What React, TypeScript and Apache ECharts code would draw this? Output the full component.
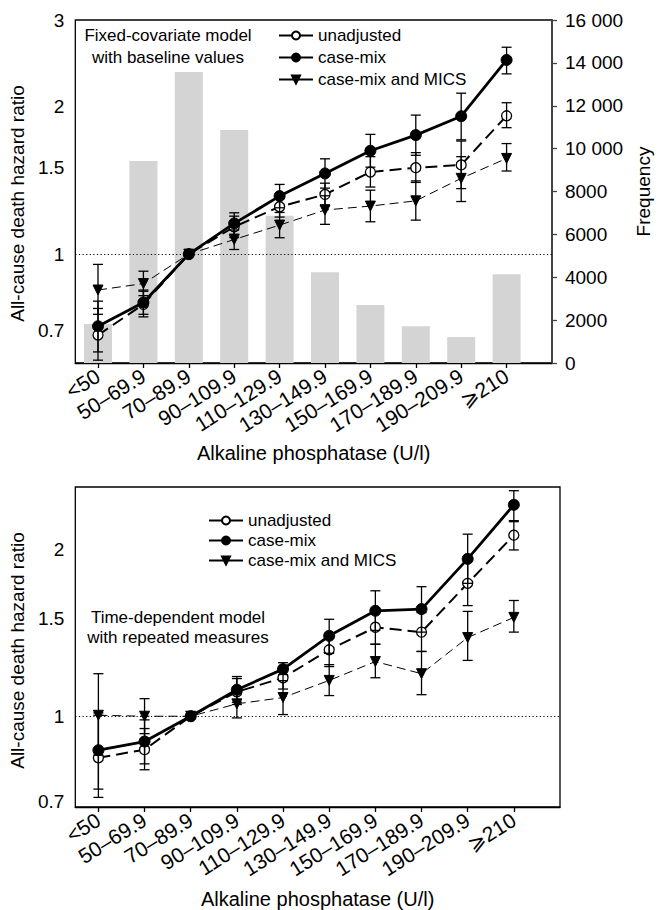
import React, { useEffect, useRef } from "react";
import * as echarts from "echarts";

const FONT = "'Liberation Sans', Arial, Helvetica, sans-serif";

const categories = ["<50", "50–69.9", "70–89.9", "90–109.9", "110–129.9", "130–149.9", "150–169.9", "170–189.9", "190–209.9", "⩾210"];
const frequency = [1820, 9420, 13570, 10870, 6870, 4230, 2700, 1720, 1210, 4140];

// Fixed-covariate model with baseline values
const fixedUnadj = [0.684, 0.79, 1, 1.137, 1.249, 1.323, 1.47, 1.5, 1.52, 1.914];
const fixedUnadjLo = [0.608, 0.745, null, 1.081, 1.19, 1.26, 1.37, 1.4, 1.36, 1.81];
const fixedUnadjHi = [0.775, 0.84, null, 1.195, 1.31, 1.395, 1.58, 1.61, 1.7, 2.035];
const fixedCaseMix = [0.713, 0.797, 1, 1.155, 1.313, 1.46, 1.624, 1.748, 1.91, 2.487];
const fixedCaseMixLo = [0.632, 0.754, null, 1.098, 1.243, 1.363, 1.504, 1.59, 1.71, 2.33];
const fixedCaseMixHi = [0.802, 0.845, null, 1.214, 1.387, 1.564, 1.754, 1.92, 2.128, 2.64];
const fixedMics = [0.845, 0.871, 1, 1.071, 1.146, 1.23, 1.253, 1.284, 1.427, 1.567];
const fixedMicsLo = [0.754, 0.823, null, 1.022, 1.08, 1.15, 1.164, 1.173, 1.28, 1.477];
const fixedMicsHi = [0.953, 0.923, null, 1.12, 1.216, 1.315, 1.35, 1.41, 1.58, 1.68];

// Time-dependent model with repeated measures
const tdUnadj = [0.841, 0.87, 1, 1.107, 1.174, 1.319, 1.449, 1.42, 1.74, 2.127];
const tdUnadjLo = [0.713, 0.8, null, 1.05, 1.12, 1.23, 1.35, 1.31, 1.586, 2.0];
const tdUnadjHi = [1.004, 0.95, null, 1.17, 1.23, 1.41, 1.55, 1.54, 1.91, 2.25];
const tdCaseMix = [0.868, 0.9, 1, 1.117, 1.217, 1.398, 1.552, 1.563, 1.927, 2.414];
const tdCaseMixLo = [0.738, 0.82, null, 1.06, 1.19, 1.3, 1.43, 1.42, 1.74, 2.26];
const tdCaseMixHi = [1.014, 0.985, null, 1.18, 1.25, 1.498, 1.687, 1.716, 2.136, 2.56];
const tdMics = [1.004, 1.0, 1, 1.053, 1.081, 1.161, 1.256, 1.194, 1.388, 1.51];
const tdMicsLo = [0.85, 0.93, null, 0.993, 1.007, 1.09, 1.174, 1.094, 1.262, 1.42];
const tdMicsHi = [1.194, 1.076, null, 1.11, 1.16, 1.24, 1.35, 1.31, 1.548, 1.62];

const topHrTicks = [0.7, 1, 1.5, 2, 3];
const bottomHrTicks = [0.7, 1, 1.5, 2];
const seriesNames = ["unadjusted", "case-mix", "case-mix and MICS"];

const ln = Math.log;

function hrLabel(ticks: number[]) {
  return (v: number) => {
    const t = ticks.find((k) => Math.abs(ln(k) - v) < 1e-6);
    return t === undefined ? "" : String(t);
  };
}

function errorItem(params: any, api: any) {
  const x = api.value(0);
  const lo = api.value(1);
  const hi = api.value(2);
  const pLo = api.coord([x, lo]);
  const pHi = api.coord([x, hi]);
  const w = 5;
  const style = { stroke: "#000", lineWidth: 1.3, fill: "none" };
  return {
    type: "group",
    children: [
      { type: "line", shape: { x1: pLo[0], y1: pLo[1], x2: pHi[0], y2: pHi[1] }, style },
      { type: "line", shape: { x1: pLo[0] - w, y1: pLo[1], x2: pLo[0] + w, y2: pLo[1] }, style },
      { type: "line", shape: { x1: pHi[0] - w, y1: pHi[1], x2: pHi[0] + w, y2: pHi[1] }, style },
    ],
  };
}

function errData(lo: (number | null)[], hi: (number | null)[]) {
  const out: number[][] = [];
  lo.forEach((l, i) => {
    const h = hi[i];
    if (l != null && h != null) out.push([i, ln(l), ln(h)]);
  });
  return out;
}

function pts(vals: number[]) {
  return vals.map((v, i) => [i, ln(v)]);
}

const styles = [
  {
    symbol: "circle",
    symbolSize: 10,
    symbolRotate: 0,
    itemStyle: { color: "#fff", borderColor: "#000", borderWidth: 1.3 },
    lineStyle: { color: "#000", width: 2, type: [12, 6] },
  },
  {
    symbol: "circle",
    symbolSize: 11,
    symbolRotate: 0,
    itemStyle: { color: "#000", borderColor: "#000", borderWidth: 1 },
    lineStyle: { color: "#000", width: 2.8, type: "solid" },
  },
  {
    symbol: "triangle",
    symbolSize: 10,
    symbolRotate: 180,
    itemStyle: { color: "#000", borderColor: "#000", borderWidth: 1 },
    lineStyle: { color: "#000", width: 1, type: [9, 5] },
  },
];

function lineSeries(name: string, idx: number, vals: number[], axis: number, yAxis: number, withRef: boolean) {
  const s: any = {
    type: "line",
    name,
    xAxisIndex: axis,
    yAxisIndex: yAxis,
    data: pts(vals),
    z: 3 + idx,
    ...styles[idx],
  };
  if (withRef) {
    s.markLine = {
      silent: true,
      symbol: ["none", "none"],
      label: { show: false },
      lineStyle: { color: "#000", width: 1, type: [1.2, 2.4] },
      data: [{ yAxis: 0 }],
      z: 2,
    };
  }
  return s;
}

function errSeries(lo: any[], hi: any[], axis: number, yAxis: number) {
  return {
    type: "custom",
    xAxisIndex: axis,
    yAxisIndex: yAxis,
    renderItem: errorItem,
    data: errData(lo, hi),
    encode: { x: 0, y: [1, 2] },
    z: 10,
    silent: true,
  };
}

const xAxisBase = (gridIndex: number, gap: number) => ({
  type: "value",
  gridIndex,
  min: -0.5,
  max: 10,
  name: "Alkaline phosphatase (U/l)",
  nameLocation: "middle",
  nameGap: gap,
  nameTextStyle: { fontFamily: FONT, fontSize: 20, color: "#000" },
  axisLine: { show: true, onZero: false, lineStyle: { color: "#000", width: 1.3 } },
  axisTick: { show: true, inside: false, length: 5, lineStyle: { color: "#000", width: 1.3 }, customValues: [0, 1, 2, 3, 4, 5, 6, 7, 8, 9] },
  axisLabel: {
    show: true,
    rotate: 32,
    margin: 11,
    fontFamily: FONT,
    fontSize: 21,
    color: "#000",
    customValues: [0, 1, 2, 3, 4, 5, 6, 7, 8, 9],
    formatter: (v: number) => categories[Math.round(v)] ?? "",
  },
  splitLine: { show: false },
});

export default function App() {
  const ref = useRef<HTMLDivElement>(null);
  useEffect(() => {
    if (!ref.current) return;
    const chart = echarts.init(ref.current, undefined, { renderer: "svg" });
    const topVals = [fixedUnadj, fixedCaseMix, fixedMics];
    const topLo = [fixedUnadjLo, fixedCaseMixLo, fixedMicsLo];
    const topHi = [fixedUnadjHi, fixedCaseMixHi, fixedMicsHi];
    const botVals = [tdUnadj, tdCaseMix, tdMics];
    const botLo = [tdUnadjLo, tdCaseMixLo, tdMicsLo];
    const botHi = [tdUnadjHi, tdCaseMixHi, tdMicsHi];

    const series: any[] = [
      {
        type: "bar",
        name: "Frequency",
        xAxisIndex: 0,
        yAxisIndex: 1,
        data: frequency.map((f, i) => [i, f]),
        barWidth: 28,
        itemStyle: { color: "#d4d4d4" },
        z: 1,
        silent: true,
      },
    ];
    seriesNames.forEach((n, i) => series.push(lineSeries(n, i, topVals[i], 0, 0, i === 1)));
    seriesNames.forEach((n, i) => series.push(lineSeries(n, i, botVals[i], 1, 2, i === 1)));
    seriesNames.forEach((n, i) => series.push(errSeries(topLo[i], topHi[i], 0, 0)));
    seriesNames.forEach((n, i) => series.push(errSeries(botLo[i], botHi[i], 1, 2)));

    const legendBase = {
      orient: "vertical",
      data: seriesNames,
      itemWidth: 34,
      itemHeight: 10,
      selectedMode: false,
      lineStyle: { type: "solid" },
      textStyle: { fontFamily: FONT, fontSize: 17, color: "#000", lineHeight: 17 },
    };

    const option: any = {
      animation: false,
      backgroundColor: "#fff",
      textStyle: { fontFamily: FONT },
      grid: [
        { left: 74, top: 20, width: 484, height: 343, show: true, borderColor: "#000", borderWidth: 1.3, backgroundColor: "transparent", containLabel: false },
        { left: 74, top: 487, width: 486, height: 322, show: true, borderColor: "#000", borderWidth: 1.3, backgroundColor: "transparent", containLabel: false },
      ],
      legend: [
        { ...legendBase, left: 273, top: 22, itemGap: 5 },
        { ...legendBase, left: 203, top: 507, itemGap: 3 },
      ],
      xAxis: [xAxisBase(0, 80), xAxisBase(1, 82)],
      yAxis: [
        {
          type: "value",
          gridIndex: 0,
          min: ln(0.6),
          max: ln(3),
          name: "All-cause death hazard ratio",
          nameLocation: "middle",
          nameRotate: 90,
          nameGap: 46,
          nameTextStyle: { fontFamily: FONT, fontSize: 19, color: "#000", padding: [0, 24, 0, 0] },
          axisLine: { show: false, onZero: false },
          axisTick: { show: false },
          splitLine: { show: false },
          axisLabel: {
            margin: 11,
            fontFamily: FONT,
            fontSize: 19,
            color: "#000",
            customValues: topHrTicks.map(ln),
            formatter: hrLabel(topHrTicks),
          },
        },
        {
          type: "value",
          gridIndex: 0,
          position: "right",
          min: 0,
          max: 16000,
          interval: 2000,
          name: "Frequency",
          nameLocation: "middle",
          nameRotate: 90,
          nameGap: 80,
          nameTextStyle: { fontFamily: FONT, fontSize: 19, color: "#000" },
          axisLine: { show: true, onZero: false, lineStyle: { color: "#444", width: 2 } },
          axisTick: { show: true, inside: false, length: 5, lineStyle: { color: "#444", width: 1.3 } },
          splitLine: { show: false },
          axisLabel: {
            margin: 13,
            fontFamily: FONT,
            fontSize: 19,
            color: "#000",
            formatter: (v: number) => (v >= 10000 ? `${Math.floor(v / 1000)} 000` : String(v)),
          },
        },
        {
          type: "value",
          gridIndex: 1,
          min: ln(0.685),
          max: ln(2.6),
          name: "All-cause death hazard ratio",
          nameLocation: "middle",
          nameRotate: 90,
          nameGap: 46,
          nameTextStyle: { fontFamily: FONT, fontSize: 19, color: "#000", padding: [0, 7, 0, 0] },
          axisLine: { show: false, onZero: false },
          axisTick: { show: false },
          splitLine: { show: false },
          axisLabel: {
            margin: 11,
            fontFamily: FONT,
            fontSize: 19,
            color: "#000",
            customValues: bottomHrTicks.map(ln),
            formatter: hrLabel(bottomHrTicks),
          },
        },
      ],
      graphic: [
        {
          type: "text",
          x: 168,
          y: 24,
          z: 20,
          style: {
            text: "Fixed-covariate model\nwith baseline values",
            textAlign: "center",
            textVerticalAlign: "top",
            fontFamily: FONT,
            fontSize: 17,
            lineHeight: 22,
            fill: "#000",
          },
        },
        {
          type: "text",
          x: 178,
          y: 607,
          z: 20,
          style: {
            text: "Time-dependent model\nwith repeated measures",
            textAlign: "center",
            textVerticalAlign: "top",
            fontFamily: FONT,
            fontSize: 17,
            lineHeight: 20,
            fill: "#000",
          },
        },
      ],
      series,
    };
    chart.setOption(option);
    return () => chart.dispose();
  }, []);
  return <div ref={ref} style={{ position: "absolute", left: 0, top: 0, width: 661, height: 910 }} />;
}
